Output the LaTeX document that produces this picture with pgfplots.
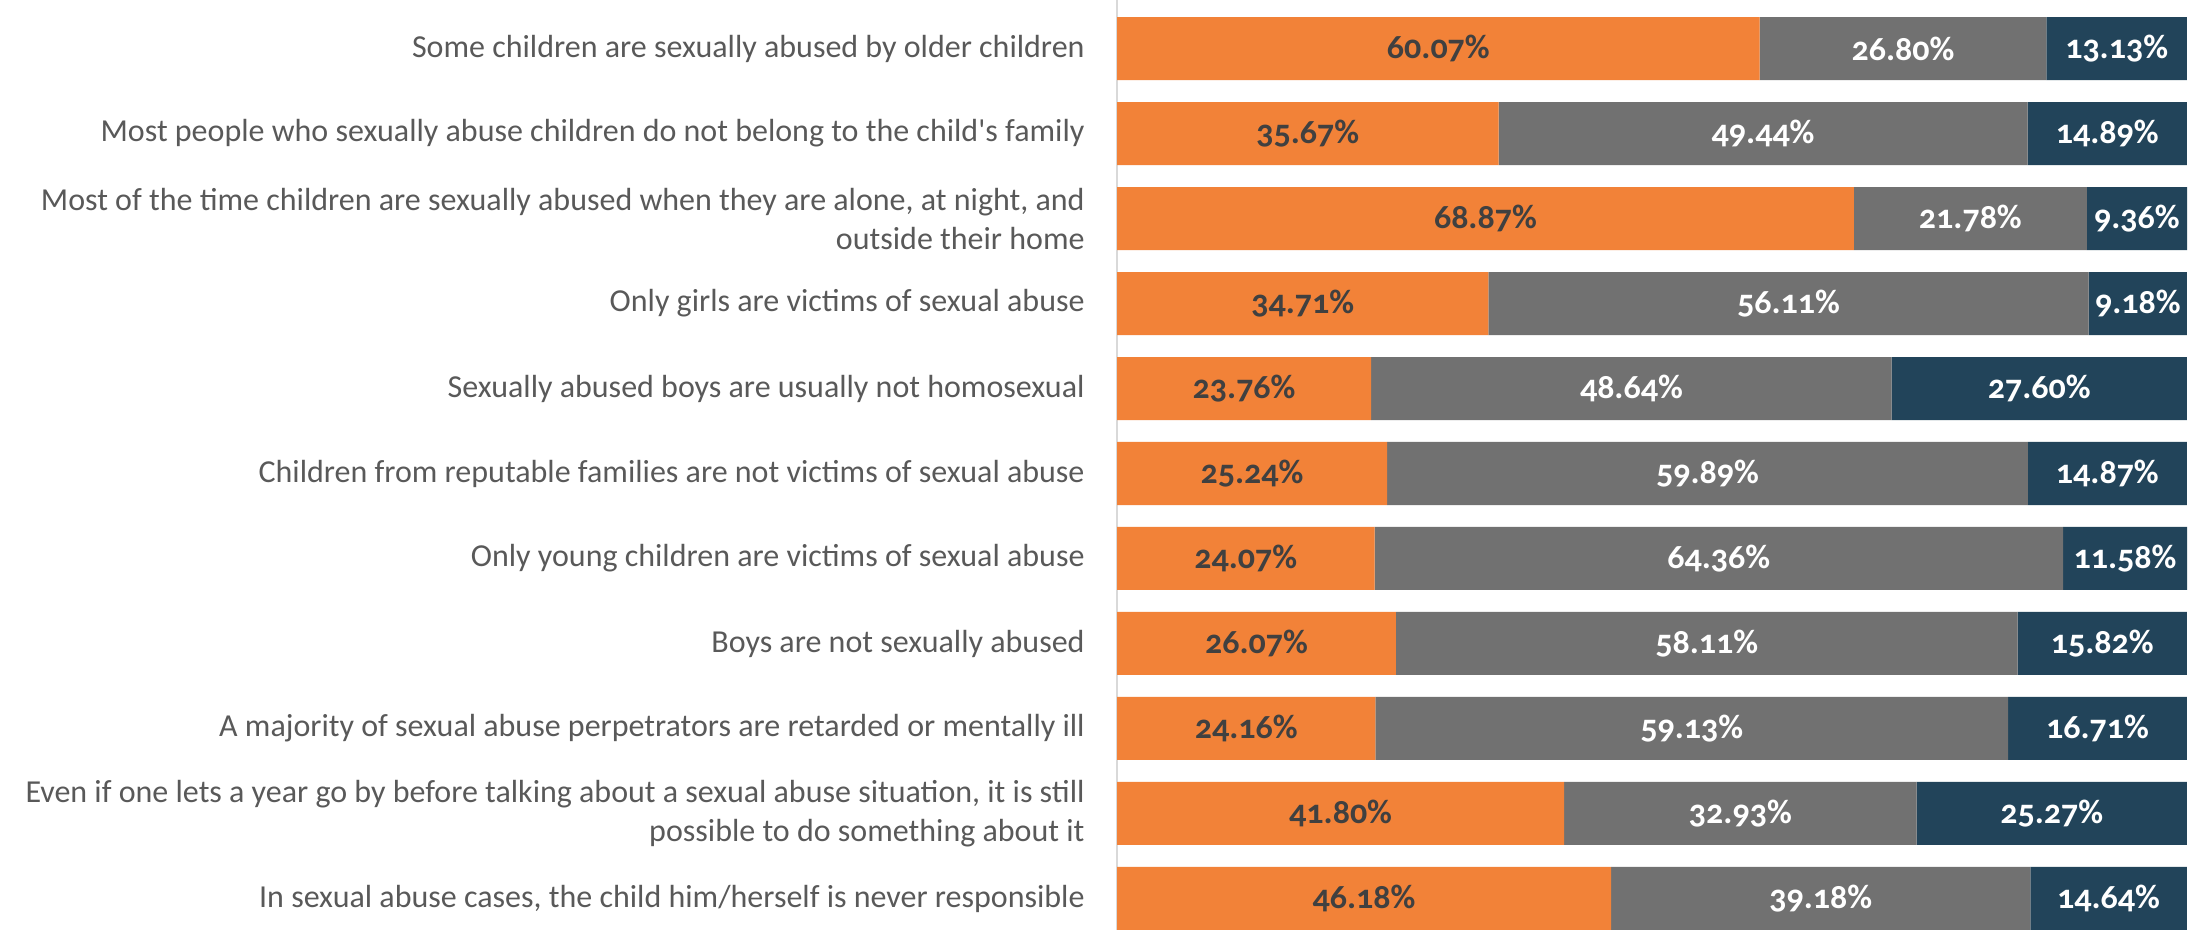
\documentclass[border=0pt]{standalone}
\usepackage{pgfplots}
\pgfplotsset{compat=1.18}
\usepackage{pgfplotstable}
\usepackage{fontspec}
\setmainfont{Carlito}[Numbers=OldStyle]

\definecolor{barorange}{HTML}{F28238}
\definecolor{bargray}{HTML}{717171}
\definecolor{barnavy}{HTML}{22445A}
\definecolor{labelgray}{HTML}{595959}
\definecolor{darktext}{HTML}{404040}

% idx 0 = top bar
\pgfplotstableread{
idx first second third
0  60.07 26.80 13.13
1  35.67 49.44 14.89
2  68.87 21.78 9.36
3  34.71 56.11 9.18
4  23.76 48.64 27.60
5  25.24 59.89 14.87
6  24.07 64.36 11.58
7  26.07 58.11 15.82
8  24.16 59.13 16.71
9  41.80 32.93 25.27
10 46.18 39.18 14.64
}\mythdata

\begin{document}
\begin{tikzpicture}
\begin{axis}[
    name=ax, at={(558.5pt,0pt)}, anchor=south west,
    scale only axis, width=535pt, height=465pt,
    xbar stacked, bar width=31.5pt,
    xmin=0, xmax=100.01,
    ymin=-0.571, ymax=10.371, y dir=reverse,
    axis x line=none, axis y line*=left,
    y axis line style={draw=black!15, line width=1pt, -},
    ytick={0,...,10},
    yticklabels={
        {Some children are sexually abused by older children},
        {Most people who sexually abuse children do not belong to the child\textquotesingle s family},
        {Most of the time children are sexually abused when they are alone, at night, and\\outside their home},
        {Only girls are victims of sexual abuse},
        {Sexually abused boys are usually not homosexual},
        {Children from reputable families are not victims of sexual abuse},
        {Only young children are victims of sexual abuse},
        {Boys are not sexually abused},
        {A majority of sexual abuse perpetrators are retarded or mentally ill},
        {Even if one lets a year go by before talking about a sexual abuse situation, it is still\\possible to do something about it},
        {In sexual abuse cases, the child him/herself is never responsible}
    },
    major tick length=0pt,
    yticklabel style={font=\fontsize{16}{19.5}\selectfont, text=labelgray,
        align=right, inner sep=0pt, xshift=-16pt},
    /pgf/number format/assume math mode=true,
    visualization depends on=rawx \as \rawx,
    nodes near coords={\pgfmathprintnumber[fixed,fixed zerofill,precision=2]{\rawx}\%},
    every node near coord/.append style={font=\bfseries\fontsize{17}{18}\selectfont,
        anchor=center},
]
\addplot[fill=barorange, draw=none,
    every node near coord/.append style={text=darktext}]
    table[x=first, y=idx] {\mythdata};
\addplot[fill=bargray, draw=none,
    every node near coord/.append style={text=white}]
    table[x=second, y=idx] {\mythdata};
\addplot[fill=barnavy, draw=none,
    every node near coord/.append style={text=white}]
    table[x=third, y=idx] {\mythdata};
\end{axis}
\pgfresetboundingbox
\path (0,0) rectangle (1094.5pt,465pt);
\end{tikzpicture}
\end{document}
